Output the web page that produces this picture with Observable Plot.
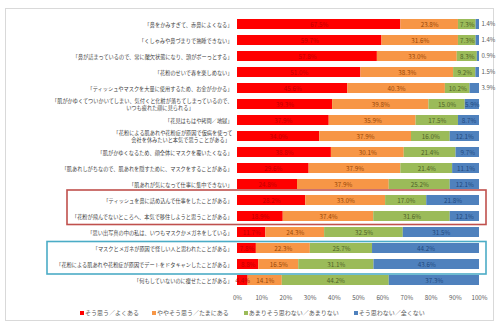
<!DOCTYPE html>
<html><head><meta charset="utf-8">
<script src="https://cdn.jsdelivr.net/npm/d3@7"></script>
<script src="https://cdn.jsdelivr.net/npm/@observablehq/plot@0.6"></script>
<style>
body{margin:0;background:#fff;font-family:"Noto Sans CJK JP",sans-serif;}
#wrap{position:relative;width:500px;height:330px;}
#frame{position:absolute;left:5px;top:8px;width:489px;height:313px;border:1px solid #d9d9d9;box-sizing:border-box;}
#chart{position:absolute;left:0;top:0;}
#legend{position:absolute;left:80px;top:308px;font-size:6px;color:#595959;display:flex;white-space:nowrap;}
#legend span.item{display:inline-flex;align-items:center;}
#legend i{display:inline-block;width:4px;height:4px;margin-right:1px;}
</style></head>
<body><div id="wrap"><div id="frame"></div><div id="chart"></div><div id="legend"></div></div>
<script>
const labels = [
"「鼻をかみすぎて、赤鼻によくなる」",
"「くしゃみや鼻づまりで熟睡できない」",
"「鼻が詰まっているので、常に酸欠状態になり、頭がボーっとする」",
"「花粉のせいで春を楽しめない」",
"「ティッシュやマスクを大量に使用するため、お金がかかる」",
"「肌がかゆくてついかいてしまい、気付くと化粧が落ちてしまっているので、\nいつも疲れた顔に見られる」　　　　　　　　",
"「花見はもはや拷問／地獄」",
"「花粉による肌あれや花粉症が原因で仮病を使って\n会社を休みたいと本気で思うことがある」　",
"「肌がかゆくなるため、顔全体にマスクを覆いたくなる」",
"「肌あれしがちなので、肌あれを隠すために、マスクをすることがある」",
"「肌あれが気になって仕事に集中できない」",
"「ティッシュを鼻に詰め込んで仕事をしたことがある」",
"「花粉が飛んでないところへ、本気で移住しようと思うことがある」",
"「思い出写真の中の私は、いつもマスクかメガネをしている」",
"「マスクとメガネが原因で怪しい人と思われたことがある」",
"「花粉による肌あれや花粉症が原因でデートをドタキャンしたことがある」",
"「何もしていないのに痩せたことがある」"
];
const red    = [67.5,59.7,57.8,51.0,45.6,39.3,37.9,34.0,38.8,29.6,24.8,28.2,18.9,11.7,7.8,8.8,4.4];
const orange = [23.8,31.6,33.0,38.3,40.3,39.8,35.9,37.9,30.1,37.9,37.9,33.0,37.4,24.3,22.3,16.5,14.1];
const green  = [7.3,7.3,8.3,9.2,10.2,15.0,17.5,16.0,21.4,21.4,25.2,17.0,31.6,32.5,25.7,31.1,44.2];
const blue   = [1.4,1.4,0.9,1.5,3.9,5.9,8.7,12.1,9.7,11.1,12.1,21.8,12.1,31.5,44.2,43.6,37.3];
const categories = ["そう思う／よくある","ややそう思う／たまにある","あまりそう思わない／あまりない","そう思わない／全くない"];
const colors = ["#ff0000","#f79646","#9bbb59","#4f81bd"];
const textColors = ["#c00000","#974806","#4f6228","#1f497d"];
const ticks = [0,10,20,30,40,50,60,70,80,90,100];
const redBox = [11,12];
const blueBox = [14,15];

const series = [red, orange, green, blue];
const data = [];
labels.forEach((q,i)=>series.forEach((s,k)=>data.push({q, cat:categories[k], k, value:s[i], row:i})));
const inside = data.filter(d => !(d.k===3 && d.value < 5));
const outside = data.filter(d => d.k===3 && d.value < 5);

const boxes = [
  {rows: redBox, color:"#c0504d", left: 67, top: 0.5, bottom: 1.35},
  {rows: blueBox, color:"#4bacc6", left: 47, top: 0.15, bottom: 1.5}
].map(b => ({...b, q1: labels[b.rows[0]], q2: labels[b.rows[1]]}));

const plot = Plot.plot({
  width: 500, height: 305,
  marginLeft: 237, marginRight: 21, marginTop: 12, marginBottom: 13,
  style: {fontFamily: '"Noto Sans CJK JP", sans-serif', background: "transparent"},
  x: {domain:[0,100], label: null},
  y: {domain: labels, paddingInner: 0.38, paddingOuter: 0.17, label: null},
  color: {domain: categories, range: colors},
  marks: [
    Plot.ruleX(ticks, {stroke:"#d9d9d9", strokeWidth:0.6, y1: labels[0], y2: labels[labels.length-1], insetTop:-8, insetBottom:-8}),
    Plot.barX(data, Plot.stackX({x:"value", y:"q", fill:"cat", order: categories})),
    Plot.text(inside, Plot.stackX({x:"value", y:"q", z:"cat", order: categories, text: d => d.value.toFixed(1)+"%", fill: d => textColors[d.k], fontSize: 6.3})),
    Plot.text(outside, {x: 100, y:"q", text: d => d.value.toFixed(1)+"%", dx: 2, textAnchor:"start", fill:"#595959", fontSize: 6}),
    Plot.axisX({ticks, tickFormat: d => d + "%", tickSize:0, tickPadding:3, fontSize:6.2, color:"#595959"}),
    Plot.axisY({tickSize:0, tickPadding:5, fontSize:5.2, color:"#404040", lineHeight:1.3}),
  ]
});
document.getElementById("chart").appendChild(plot);

// boxes around highlighted rows, positioned through the plot's scales
const ys = plot.scale("y"), xs = plot.scale("x");
const svg = d3.select(plot);
boxes.forEach(b => {
  const y1 = ys.apply(b.q1) - ys.bandwidth*b.top, y2 = ys.apply(b.q2) + ys.bandwidth*b.bottom;
  const xr = xs.apply(100) + 7;
  svg.append("rect").attr("x", b.left).attr("y", y1).attr("width", xr - b.left).attr("height", y2 - y1)
    .attr("fill","none").attr("stroke", b.color).attr("stroke-width", 1.6);
});

const lg = document.getElementById("legend");
categories.forEach((c,k)=>{
  const s = document.createElement("span"); s.className="item";
  s.style.marginRight = ["13px","15px","15px","0"][k];
  s.innerHTML = `<i style="background:${colors[k]}"></i>${c}`;
  lg.appendChild(s);
});
</script></body></html>
